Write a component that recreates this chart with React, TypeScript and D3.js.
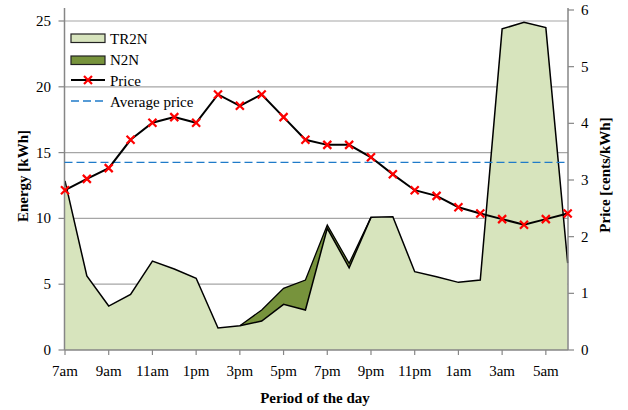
import React from "react";
import * as d3 from "d3";

const hours = ["7am","8am","9am","10am","11am","12pm","1pm","2pm","3pm","4pm","5pm","6pm","7pm","8pm","9pm","10pm","11pm","12am","1am","2am","3am","4am","5am","6am"];
const tickLabels = ["7am","9am","11am","1pm","3pm","5pm","7pm","9pm","11pm","1am","3am","5am"];
const tr2n = [12.85,5.62,3.34,4.23,6.76,6.15,5.45,1.67,1.85,2.2,3.47,3.04,9.25,6.25,10.08,10.13,5.95,5.57,5.14,5.32,24.4,24.9,24.5,6.6];
const n2n = [0,0,0,0,0,0,0,0,0,0.84,1.22,2.28,0.25,0.34,0,0,0,0,0,0,0,0,0,0];
const price = [2.82,3.02,3.21,3.71,4.01,4.11,4.01,4.51,4.31,4.51,4.11,3.71,3.62,3.62,3.4,3.1,2.82,2.72,2.52,2.41,2.31,2.21,2.31,2.41];
const avgPrice = 3.31;
const leftTicks = [0,5,10,15,20,25];
const rightTicks = [0,1,2,3,4,5,6];
const gridTicks = [5,10,15,20,25];

const FONT = "'Liberation Serif', 'Times New Roman', serif";

export default function App() {
  const W = 628, H = 410;
  const x = d3.scalePoint<string>().domain(hours).range([65, 567.7]);
  const yL = d3.scaleLinear().domain([0, 25]).range([350, 21]);
  const yR = d3.scaleLinear().domain([0, 6]).range([350, 10]);
  const left = 64.5, right = 568, top = 8, bottom = 350;

  const idx = hours.map((_, i) => i);
  const areaTR = d3.area<number>().x(i => x(hours[i])!).y0(yL(0)).y1(i => yL(tr2n[i]));
  const lineTR = d3.line<number>().x(i => x(hours[i])!).y(i => yL(tr2n[i]));
  const areaN = d3.area<number>().x(i => x(hours[i])!).y0(i => yL(tr2n[i])).y1(i => yL(tr2n[i] + n2n[i]));
  const lineN = d3.line<number>().x(i => x(hours[i])!).y(i => yL(tr2n[i] + n2n[i]));
  const lineP = d3.line<number>().x(i => x(hours[i])!).y(i => yR(price[i]));

  const cross = (cx: number, cy: number, s: number, key: any) => (
    <path key={key} d={`M${cx - s},${cy - s}L${cx + s},${cy + s}M${cx - s},${cy + s}L${cx + s},${cy - s}`} stroke="#ff0000" strokeWidth={2.2} fill="none" />
  );

  // N2N segment range where present
  const nIdx = idx.filter(i => i >= 8 && i <= 14);

  return (
    <svg width={W} height={H} style={{ position: "absolute", left: 0, top: 0, background: "#fff" }} fontFamily={FONT}>
      {/* gridlines */}
      {gridTicks.map(t => (
        <line key={t} x1={left} x2={right} y1={yL(t)} y2={yL(t)} stroke="#a6a6a6" strokeWidth={1.2} />
      ))}
      {/* areas */}
      <path d={areaTR(idx)!} fill="#d7e4bd" />
      <path d={areaN(nIdx)!} fill="#77933c" />
      <path d={lineN(nIdx)!} fill="none" stroke="#000" strokeWidth={1.3} />
      <path d={lineTR(idx)!} fill="none" stroke="#000" strokeWidth={1.5} />
      {/* axes */}
      <line x1={left} x2={left} y1={top} y2={bottom} stroke="#868686" strokeWidth={1.5} />
      <line x1={right} x2={right} y1={top} y2={bottom} stroke="#868686" strokeWidth={1.5} />
      <line x1={left} x2={right} y1={bottom} y2={bottom} stroke="#868686" strokeWidth={1.5} />
      {leftTicks.map(t => (
        <g key={"l" + t}>
          <line x1={left - 6} x2={left} y1={yL(t)} y2={yL(t)} stroke="#868686" strokeWidth={1.2} />
          <text x={51} y={yL(t) + 5} textAnchor="end" fontSize={15} fill="#000">{t}</text>
        </g>
      ))}
      {rightTicks.map(t => (
        <g key={"r" + t}>
          <line x1={right} x2={right + 6} y1={yR(t)} y2={yR(t)} stroke="#868686" strokeWidth={1.2} />
          <text x={581} y={yR(t) + 5} textAnchor="start" fontSize={15} fill="#000">{t}</text>
        </g>
      ))}
      {tickLabels.map(l => (
        <g key={"x" + l}>
          <line x1={x(l)!} x2={x(l)!} y1={bottom} y2={bottom + 5} stroke="#868686" strokeWidth={1.2} />
          <text x={x(l)!} y={376} textAnchor="middle" fontSize={15} fill="#000">{l}</text>
        </g>
      ))}
      {/* average price */}
      <line x1={left} x2={right} y1={yR(avgPrice)} y2={yR(avgPrice)} stroke="#1f7bc9" strokeWidth={1.3} strokeDasharray="8,4" />
      {/* price */}
      <path d={lineP(idx)!} fill="none" stroke="#000" strokeWidth={2} />
      {idx.map(i => cross(x(hours[i])!, yR(price[i]), 4, i))}
      {/* legend */}
      <rect x={71} y={34} width={34} height={8.5} fill="#d7e4bd" stroke="#222" strokeWidth={1.2} />
      <text x={110} y={44} fontSize={15}>TR2N</text>
      <rect x={71} y={56} width={34} height={8.5} fill="#77933c" stroke="#222" strokeWidth={1.2} />
      <text x={110} y={65} fontSize={15}>N2N</text>
      <line x1={71} x2={105} y1={80} y2={80} stroke="#000" strokeWidth={2} />
      {cross(88, 80, 4, "lg")}
      <text x={110} y={85.5} fontSize={15}>Price</text>
      <line x1={71} x2={105} y1={101} y2={101} stroke="#1f7bc9" strokeWidth={1.3} strokeDasharray="8,4" />
      <text x={110} y={106.5} fontSize={15}>Average price</text>
      {/* titles */}
      <text transform={`translate(28,176) rotate(-90)`} textAnchor="middle" fontSize={15} fontWeight="bold">Energy [kWh]</text>
      <text transform={`translate(610,175) rotate(-90)`} textAnchor="middle" fontSize={15} fontWeight="bold">Price [cents/kWh]</text>
      <text x={315} y={403} textAnchor="middle" fontSize={15} fontWeight="bold">Period of the day</text>
    </svg>
  );
}
